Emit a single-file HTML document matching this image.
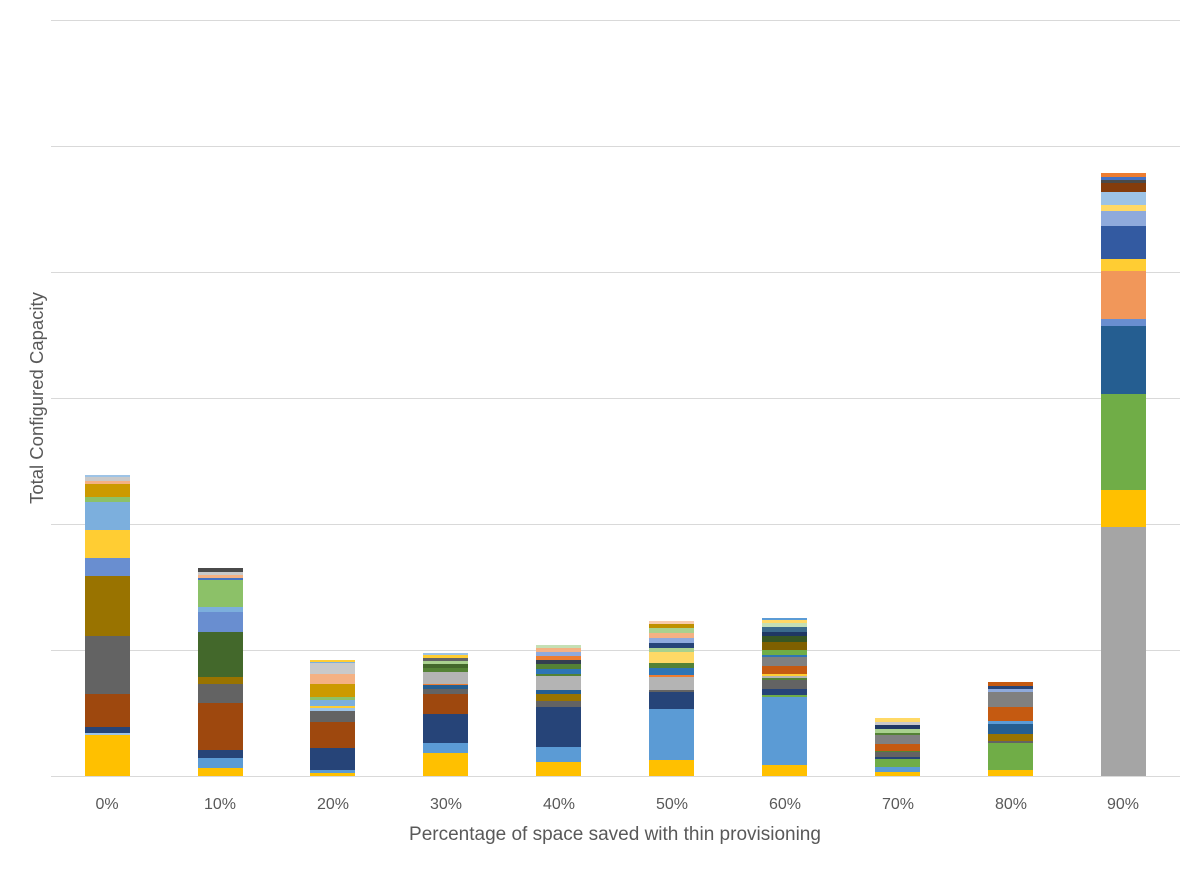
<!DOCTYPE html>
<html><head><style>body{margin:0;background:#fff}svg{display:block}</style></head><body>
<svg width="1200" height="869" xmlns="http://www.w3.org/2000/svg" font-family="Liberation Sans, sans-serif">
<rect width="1200" height="869" fill="#fff"/>
<g stroke="#d9d9d9" stroke-width="1">
<line x1="51" x2="1180" y1="20.5" y2="20.5"/><line x1="51" x2="1180" y1="146.5" y2="146.5"/>
<line x1="51" x2="1180" y1="272.5" y2="272.5"/><line x1="51" x2="1180" y1="398.5" y2="398.5"/>
<line x1="51" x2="1180" y1="524.5" y2="524.5"/><line x1="51" x2="1180" y1="650.5" y2="650.5"/>
<line x1="51" x2="1180" y1="776.5" y2="776.5"/>
</g>
<g id="b0">
<rect x="85" y="735" width="45" height="41" fill="#FFC000"/>
<rect x="85" y="733" width="45" height="2" fill="#9DC3E6"/>
<rect x="85" y="727" width="45" height="6" fill="#264478"/>
<rect x="85" y="694" width="45" height="33" fill="#9E480E"/>
<rect x="85" y="636" width="45" height="58" fill="#636363"/>
<rect x="85" y="576" width="45" height="60" fill="#997300"/>
<rect x="85" y="558" width="45" height="18" fill="#698ED0"/>
<rect x="85" y="530" width="45" height="28" fill="#FFCD33"/>
<rect x="85" y="502" width="45" height="28" fill="#7CAFDD"/>
<rect x="85" y="497" width="45" height="5" fill="#8CC168"/>
<rect x="85" y="484" width="45" height="13" fill="#CC9A00"/>
<rect x="85" y="481" width="45" height="3" fill="#F4B183"/>
<rect x="85" y="477" width="45" height="4" fill="#C9C9C9"/>
<rect x="85" y="475" width="45" height="2" fill="#9DC3E6"/>
</g>
<g>
<rect x="198" y="768" width="45" height="8" fill="#FFC000"/>
<rect x="198" y="758" width="45" height="10" fill="#5B9BD5"/>
<rect x="198" y="750" width="45" height="8" fill="#264478"/>
<rect x="198" y="703" width="45" height="47" fill="#9E480E"/>
<rect x="198" y="684" width="45" height="19" fill="#636363"/>
<rect x="198" y="677" width="45" height="7" fill="#997300"/>
<rect x="198" y="632" width="45" height="45" fill="#43682B"/>
<rect x="198" y="612" width="45" height="20" fill="#698ED0"/>
<rect x="198" y="607" width="45" height="5" fill="#7CAFDD"/>
<rect x="198" y="580" width="45" height="27" fill="#8CC168"/>
<rect x="198" y="578" width="45" height="2" fill="#4472C4"/>
<rect x="198" y="575" width="45" height="3" fill="#F4B183"/>
<rect x="198" y="572" width="45" height="3" fill="#C9C9C9"/>
<rect x="198" y="568" width="45" height="4" fill="#4a4a4a"/>
</g>
<g>
<rect x="310" y="773" width="45" height="3" fill="#FFC000"/>
<rect x="310" y="770" width="45" height="3" fill="#5B9BD5"/>
<rect x="310" y="748" width="45" height="22" fill="#264478"/>
<rect x="310" y="722" width="45" height="26" fill="#9E480E"/>
<rect x="310" y="711" width="45" height="11" fill="#636363"/>
<rect x="310" y="708" width="45" height="3" fill="#9DC3E6"/>
<rect x="310" y="706" width="45" height="2" fill="#FFCD33"/>
<rect x="310" y="700" width="45" height="6" fill="#7CAFDD"/>
<rect x="310" y="697" width="45" height="3" fill="#8CC168"/>
<rect x="310" y="684" width="45" height="13" fill="#CC9A00"/>
<rect x="310" y="674" width="45" height="10" fill="#F4B183"/>
<rect x="310" y="663" width="45" height="11" fill="#C9C9C9"/>
<rect x="310" y="662" width="45" height="1" fill="#7CAFDD"/>
<rect x="310" y="660" width="45" height="2" fill="#FFCD33"/>
</g>
<g>
<rect x="423" y="753" width="45" height="23" fill="#FFC000"/>
<rect x="423" y="743" width="45" height="10" fill="#5B9BD5"/>
<rect x="423" y="714" width="45" height="29" fill="#264478"/>
<rect x="423" y="694" width="45" height="20" fill="#9E480E"/>
<rect x="423" y="689" width="45" height="5" fill="#636363"/>
<rect x="423" y="685" width="45" height="4" fill="#255E91"/>
<rect x="423" y="684" width="45" height="1" fill="#ED7D31"/>
<rect x="423" y="672" width="45" height="12" fill="#B4B4B4"/>
<rect x="423" y="668" width="45" height="4" fill="#548235"/>
<rect x="423" y="664" width="45" height="4" fill="#43682B"/>
<rect x="423" y="661" width="45" height="3" fill="#A9D18E"/>
<rect x="423" y="658" width="45" height="3" fill="#636363"/>
<rect x="423" y="655" width="45" height="3" fill="#FFCD33"/>
<rect x="423" y="653" width="45" height="2" fill="#9DC3E6"/>
</g>
<g>
<rect x="536" y="762" width="45" height="14" fill="#FFC000"/>
<rect x="536" y="747" width="45" height="15" fill="#5B9BD5"/>
<rect x="536" y="707" width="45" height="40" fill="#264478"/>
<rect x="536" y="701" width="45" height="6" fill="#636363"/>
<rect x="536" y="694" width="45" height="7" fill="#997300"/>
<rect x="536" y="690" width="45" height="4" fill="#255E91"/>
<rect x="536" y="676" width="45" height="14" fill="#B4B4B4"/>
<rect x="536" y="674" width="45" height="2" fill="#548235"/>
<rect x="536" y="669" width="45" height="5" fill="#2E75B6"/>
<rect x="536" y="664" width="45" height="5" fill="#548235"/>
<rect x="536" y="660" width="45" height="4" fill="#333F50"/>
<rect x="536" y="656" width="45" height="4" fill="#ED7D31"/>
<rect x="536" y="652" width="45" height="4" fill="#8FAADC"/>
<rect x="536" y="648" width="45" height="4" fill="#F4B183"/>
<rect x="536" y="645" width="45" height="3" fill="#C5E0B4"/>
</g>
<g>
<rect x="649" y="760" width="45" height="16" fill="#FFC000"/>
<rect x="649" y="709" width="45" height="51" fill="#5B9BD5"/>
<rect x="649" y="692" width="45" height="17" fill="#264478"/>
<rect x="649" y="690" width="45" height="2" fill="#636363"/>
<rect x="649" y="677" width="45" height="13" fill="#B4B4B4"/>
<rect x="649" y="675" width="45" height="2" fill="#ED7D31"/>
<rect x="649" y="668" width="45" height="7" fill="#2E75B6"/>
<rect x="649" y="663" width="45" height="5" fill="#548235"/>
<rect x="649" y="652" width="45" height="11" fill="#FFD966"/>
<rect x="649" y="648" width="45" height="4" fill="#A9D18E"/>
<rect x="649" y="643" width="45" height="5" fill="#264478"/>
<rect x="649" y="638" width="45" height="5" fill="#8FAADC"/>
<rect x="649" y="633" width="45" height="5" fill="#F4B183"/>
<rect x="649" y="628" width="45" height="5" fill="#A9D18E"/>
<rect x="649" y="624" width="45" height="4" fill="#BF9000"/>
<rect x="649" y="621" width="45" height="3" fill="#F8CBAD"/>
</g>
<g>
<rect x="762" y="765" width="45" height="11" fill="#FFC000"/>
<rect x="762" y="697" width="45" height="68" fill="#5B9BD5"/>
<rect x="762" y="695" width="45" height="2" fill="#70AD47"/>
<rect x="762" y="689" width="45" height="6" fill="#264478"/>
<rect x="762" y="680" width="45" height="9" fill="#636363"/>
<rect x="762" y="678" width="45" height="2" fill="#548235"/>
<rect x="762" y="676" width="45" height="2" fill="#B4B4B4"/>
<rect x="762" y="674" width="45" height="2" fill="#FFCD33"/>
<rect x="762" y="666" width="45" height="8" fill="#C55A11"/>
<rect x="762" y="657" width="45" height="9" fill="#808080"/>
<rect x="762" y="655" width="45" height="2" fill="#2E75B6"/>
<rect x="762" y="650" width="45" height="5" fill="#70AD47"/>
<rect x="762" y="642" width="45" height="8" fill="#7F6000"/>
<rect x="762" y="636" width="45" height="6" fill="#375623"/>
<rect x="762" y="632" width="45" height="4" fill="#1F3864"/>
<rect x="762" y="627" width="45" height="5" fill="#3B6B8C"/>
<rect x="762" y="623" width="45" height="4" fill="#C5E0B4"/>
<rect x="762" y="620" width="45" height="3" fill="#FFD966"/>
<rect x="762" y="618" width="45" height="2" fill="#5B9BD5"/>
</g>
<g>
<rect x="875" y="772" width="45" height="4" fill="#FFC000"/>
<rect x="875" y="767" width="45" height="5" fill="#5B9BD5"/>
<rect x="875" y="759" width="45" height="8" fill="#70AD47"/>
<rect x="875" y="757" width="45" height="2" fill="#264478"/>
<rect x="875" y="752" width="45" height="5" fill="#636363"/>
<rect x="875" y="751" width="45" height="1" fill="#548235"/>
<rect x="875" y="744" width="45" height="7" fill="#C55A11"/>
<rect x="875" y="735" width="45" height="9" fill="#808080"/>
<rect x="875" y="733" width="45" height="2" fill="#548235"/>
<rect x="875" y="729" width="45" height="4" fill="#A9D18E"/>
<rect x="875" y="725" width="45" height="4" fill="#1F3864"/>
<rect x="875" y="722" width="45" height="3" fill="#C9C9C9"/>
<rect x="875" y="718" width="45" height="4" fill="#FFD966"/>
</g>
<g>
<rect x="988" y="770" width="45" height="6" fill="#FFC000"/>
<rect x="988" y="743" width="45" height="27" fill="#70AD47"/>
<rect x="988" y="741" width="45" height="2" fill="#636363"/>
<rect x="988" y="734" width="45" height="7" fill="#997300"/>
<rect x="988" y="724" width="45" height="10" fill="#255E91"/>
<rect x="988" y="721" width="45" height="3" fill="#5B9BD5"/>
<rect x="988" y="707" width="45" height="14" fill="#C55A11"/>
<rect x="988" y="692" width="45" height="15" fill="#808080"/>
<rect x="988" y="689" width="45" height="3" fill="#8FAADC"/>
<rect x="988" y="686" width="45" height="3" fill="#264478"/>
<rect x="988" y="682" width="45" height="4" fill="#C55A11"/>
</g>
<g>
<rect x="1101" y="527" width="45" height="249" fill="#A5A5A5"/>
<rect x="1101" y="490" width="45" height="37" fill="#FFC000"/>
<rect x="1101" y="394" width="45" height="96" fill="#70AD47"/>
<rect x="1101" y="326" width="45" height="68" fill="#255E91"/>
<rect x="1101" y="319" width="45" height="7" fill="#698ED0"/>
<rect x="1101" y="271" width="45" height="48" fill="#F1975A"/>
<rect x="1101" y="259" width="45" height="12" fill="#FFCD33"/>
<rect x="1101" y="226" width="45" height="33" fill="#335AA1"/>
<rect x="1101" y="211" width="45" height="15" fill="#8FAADC"/>
<rect x="1101" y="205" width="45" height="6" fill="#FFD966"/>
<rect x="1101" y="192" width="45" height="13" fill="#9DC3E6"/>
<rect x="1101" y="183" width="45" height="9" fill="#843C0C"/>
<rect x="1101" y="180" width="45" height="3" fill="#4a4a4a"/>
<rect x="1101" y="177" width="45" height="3" fill="#4472C4"/>
<rect x="1101" y="173" width="45" height="4" fill="#ED7D31"/>
</g>
<g fill="#595959" font-size="16" text-anchor="middle">
<text x="107" y="809">0%</text><text x="220" y="809">10%</text><text x="333" y="809">20%</text>
<text x="446" y="809">30%</text><text x="559" y="809">40%</text><text x="672" y="809">50%</text>
<text x="785" y="809">60%</text><text x="898" y="809">70%</text><text x="1011" y="809">80%</text>
<text x="1123" y="809">90%</text>
<text x="615" y="840" font-size="19">Percentage of space saved with thin provisioning</text>
<text transform="translate(43,398) rotate(-90)" font-size="18.5">Total Configured Capacity</text>
</g>
</svg>
</body></html>
